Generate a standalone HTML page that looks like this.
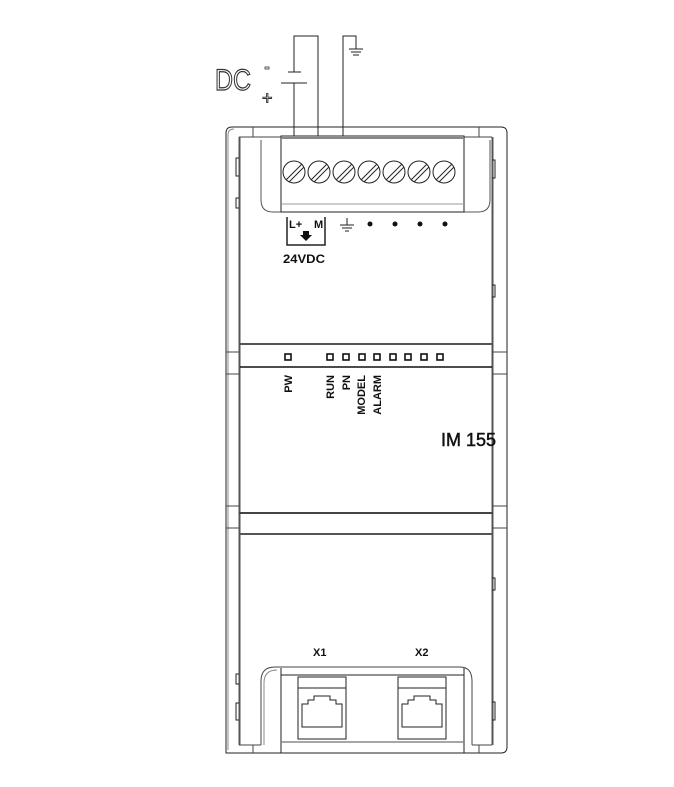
<!DOCTYPE html>
<html><head><style>
html,body{margin:0;padding:0;background:#fff;}
svg{display:block;}
text{font-family:"Liberation Sans",sans-serif;}
</style></head><body>
<svg width="674" height="787" viewBox="0 0 674 787" xmlns="http://www.w3.org/2000/svg">
<g fill="none" stroke="#222" stroke-width="1">
<path d="M226,753 V133 Q226,127 232,127 H501 Q507,127 507,133 V747 Q507,753 501,753 Z"/>
<path d="M228,750 V135 Q228,129 234,129" stroke="#888"/>
<line x1="239.5" y1="137" x2="239.5" y2="745" stroke="#555" stroke-width="2"/>
<line x1="492.5" y1="137" x2="492.5" y2="745" stroke="#555" stroke-width="2"/>
<path d="M253,127 V137 H281 M239,137 H253" stroke="#444"/>
<path d="M464,137 H479 V127 M479,137 H492" stroke="#444"/>
<path d="M239,158 H236 V176 H239"/>
<path d="M239,198 H236 V208 H239"/>
<path d="M492,160 H495 V178 H492"/>
<path d="M492,285 H495 V297 H492"/>
<path d="M492,578 H495 V590 H492"/>
<path d="M239,674 H236 V684 H239"/>
<path d="M239,703 H236 V720 H239"/>
<path d="M492,702 H495 V720 H492"/>
<path d="M261,140 V200 Q261,212 273,212 H478 Q490,212 490,200 V140" stroke="#555"/>
<rect x="281" y="136" width="183" height="76" stroke="#222"/>
<line x1="281" y1="138" x2="464" y2="138" stroke="#888" stroke-width="2"/>
<line x1="281" y1="204" x2="464" y2="204" stroke="#999"/>
<g stroke="#222">
<circle cx="294" cy="172" r="11"/><line x1="286" y1="180" x2="302" y2="164"/><line x1="289" y1="182" x2="304" y2="167"/>
<circle cx="319" cy="172" r="11"/><line x1="311" y1="180" x2="327" y2="164"/><line x1="314" y1="182" x2="329" y2="167"/>
<circle cx="344" cy="172" r="11"/><line x1="336" y1="180" x2="352" y2="164"/><line x1="339" y1="182" x2="354" y2="167"/>
<circle cx="369" cy="172" r="11"/><line x1="361" y1="180" x2="377" y2="164"/><line x1="364" y1="182" x2="379" y2="167"/>
<circle cx="394" cy="172" r="11"/><line x1="386" y1="180" x2="402" y2="164"/><line x1="389" y1="182" x2="404" y2="167"/>
<circle cx="419" cy="172" r="11"/><line x1="411" y1="180" x2="427" y2="164"/><line x1="414" y1="182" x2="429" y2="167"/>
<circle cx="444" cy="172" r="11"/><line x1="436" y1="180" x2="452" y2="164"/><line x1="439" y1="182" x2="454" y2="167"/>
</g>
<path d="M294,136 V83 M294,72 V36 H318 V136"/>
<line x1="288" y1="72" x2="301" y2="72"/>
<line x1="281" y1="83" x2="307" y2="83"/>
<path d="M343,136 V36 H356 V49"/>
<line x1="349" y1="49" x2="363" y2="49"/>
<line x1="351" y1="52" x2="361" y2="52"/>
<line x1="353" y1="55" x2="359" y2="55"/>
<path d="M287,217 V245 H325 V217" stroke-width="1.5"/>
<line x1="347" y1="218" x2="347" y2="225"/>
<line x1="340" y1="225" x2="354" y2="225"/>
<line x1="342" y1="228" x2="352" y2="228"/>
<line x1="345" y1="231" x2="349" y2="231"/>
<line x1="240" y1="344" x2="492" y2="344" stroke="#555" stroke-width="2"/>
<line x1="240" y1="367" x2="492" y2="367" stroke="#111" stroke-width="1.5"/>
<path d="M226,352 H239 M226,374 H239 M492,352 H507 M492,374 H507" stroke="#444"/>
<path d="M226,506 H239 M226,528 H239 M492,506 H507 M492,528 H507" stroke="#444"/>
<line x1="239" y1="513" x2="493" y2="513" stroke="#444" stroke-width="2"/>
<line x1="240" y1="534" x2="492" y2="534" stroke="#555" stroke-width="2"/>
<path d="M261,745 V681 Q261,667 275,667 H460 Q472,667 472,681 V745" stroke="#444"/>
<path d="M264,745 V683 Q264,670 277,670" stroke="#888"/>
<line x1="281" y1="668" x2="281" y2="753"/>
<line x1="464" y1="668" x2="464" y2="753"/>
<line x1="281" y1="675" x2="464" y2="675"/>
<line x1="281" y1="742" x2="464" y2="742" stroke="#888" stroke-width="1.5"/>
<path d="M239,745 H261 M472,745 H492 M253,745 V753 M479,745 V753" stroke="#444"/>
<rect x="298" y="677" width="48" height="62"/>
<line x1="298" y1="688" x2="346" y2="688"/>
<path d="M302,727 V704 H308 V700 H314 V696 H330 V700 H336 V704 H342 V727 Z"/>
<rect x="398" y="677" width="48" height="62"/>
<line x1="398" y1="688" x2="446" y2="688"/>
<path d="M402,727 V704 H408 V700 H414 V696 H430 V700 H436 V704 H442 V727 Z"/>
</g>
<g fill="none" stroke="#111" stroke-width="1.6">
<rect x="285" y="354" width="6" height="6"/>
<rect x="327" y="354" width="6" height="6"/>
<rect x="343" y="354" width="6" height="6"/>
<rect x="359" y="354" width="6" height="6"/>
<rect x="374" y="354" width="6" height="6"/>
<rect x="390" y="354" width="6" height="6"/>
<rect x="405" y="354" width="6" height="6"/>
<rect x="421" y="354" width="6" height="6"/>
<rect x="437" y="354" width="6" height="6"/>
</g>
<g fill="#111"><circle cx="370" cy="224" r="2.5"/><circle cx="395" cy="224" r="2.5"/><circle cx="420" cy="224" r="2.5"/><circle cx="445" cy="224" r="2.5"/></g>
<path d="M303,231 H309 V235 H312 L306,241 L300,235 H303 Z" fill="#111"/>
<text x="215" y="90" font-size="30" fill="#fff" stroke="#333" stroke-width="1.2" textLength="36" lengthAdjust="spacingAndGlyphs">DC</text>
<rect x="265" y="67" width="4" height="2" fill="#fff" stroke="#333" stroke-width="0.8"/>
<text x="262" y="104" font-size="18" fill="#fff" stroke="#333" stroke-width="0.9">+</text>
<text x="289" y="228" font-size="11" font-weight="bold" fill="#111">L+</text>
<text x="314" y="228" font-size="11" font-weight="bold" fill="#111">M</text>
<text x="283" y="263" font-size="12" font-weight="bold" fill="#111" textLength="42" lengthAdjust="spacingAndGlyphs">24VDC</text>
<g font-size="11" fill="#111" font-weight="bold" text-anchor="end">
<text transform="translate(292,375) rotate(-90)">PW</text>
<text transform="translate(334,375) rotate(-90)">RUN</text>
<text transform="translate(350,375) rotate(-90)">PN</text>
<text transform="translate(365,375) rotate(-90)">MODEL</text>
<text transform="translate(381,375) rotate(-90)">ALARM</text>
</g>
<text x="441" y="446" font-size="18" fill="#111" stroke="#111" stroke-width="0.5" textLength="55" lengthAdjust="spacingAndGlyphs">IM 155</text>
<text x="313" y="656" font-size="11" font-weight="bold" fill="#111">X1</text>
<text x="415" y="656" font-size="11" font-weight="bold" fill="#111">X2</text>
</svg>
</body></html>
